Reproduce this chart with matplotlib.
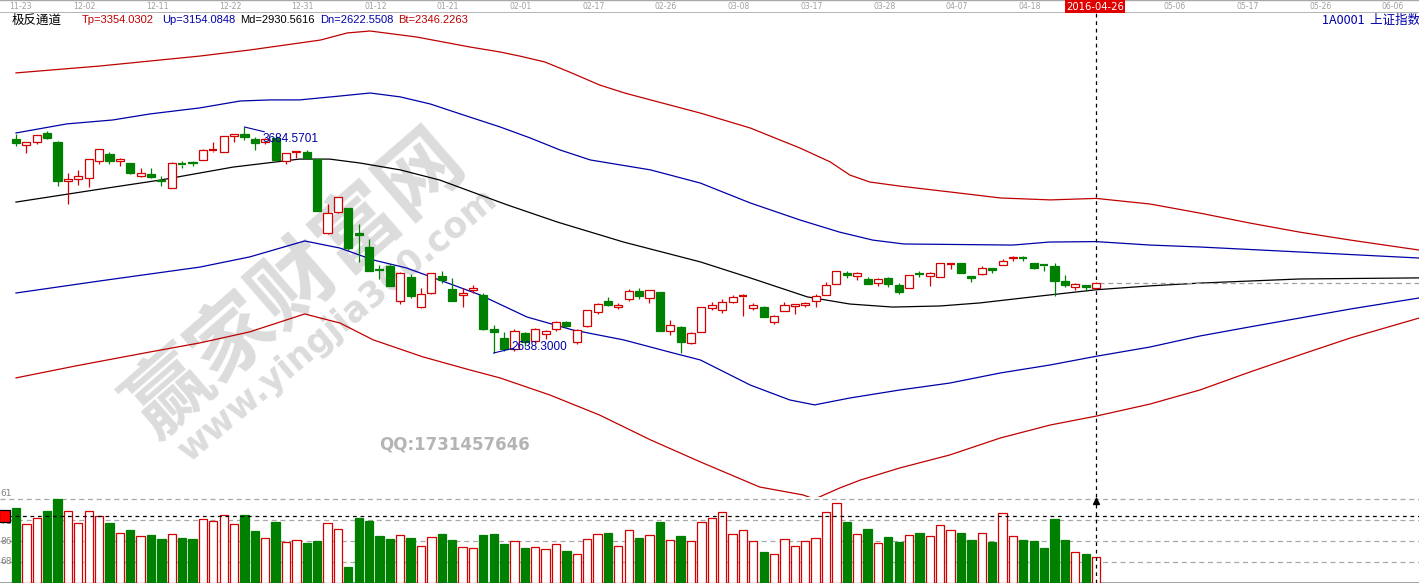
import matplotlib
matplotlib.use("Agg")
import matplotlib.pyplot as plt
from matplotlib.patches import Rectangle

# ---- daily OHLC, 2015-11-23 .. 2016-04-26 (index 0..104) ----
opens = [3630, 3603, 3614, 3659, 3616, 3433, 3443, 3450, 3525, 3558,
         3529, 3518, 3460, 3469, 3441, 3403, 3515, 3522, 3532, 3574,
         3571, 3641, 3650, 3631, 3614, 3635, 3528, 3567, 3570, 3536,
         3196, 3291, 3309, 3194, 3131, 3026, 3041, 2878, 2988, 2852,
         2917, 2997, 2934, 2905, 2928, 2907, 2751, 2707, 2659, 2730,
         2695, 2725, 2751, 2784, 2687, 2764, 2830, 2878, 2853, 2888,
         2925, 2891, 2919, 2742, 2760, 2686, 2737, 2846, 2839, 2873,
         2899, 2846, 2852, 2784, 2835, 2857, 2860, 2878, 2908, 2958,
         3009, 2996, 2982, 2962, 2984, 2955, 2937, 3008, 2996, 2992,
         3048, 3053, 2993, 3003, 3031, 3045, 3076, 3079, 3055, 3046,
         3043, 2972, 2943, 2953, 2938]
highs = [3654, 3616, 3648, 3668, 3621, 3470, 3484, 3538, 3585, 3568,
         3543, 3518, 3495, 3495, 3456, 3521, 3525, 3528, 3583, 3617,
         3644, 3652, 3684.5701, 3640, 3635, 3641, 3564, 3573, 3580, 3538,
         3328, 3362, 3309, 3235, 3165, 3044, 3051, 3011, 3003, 2939,
         3009, 3017, 2987, 2937, 2951, 2916, 2768, 2734, 2751, 2735,
         2753, 2745, 2785, 2786, 2748, 2838, 2868, 2897, 2871, 2933,
         2938, 2928, 2919, 2793, 2764, 2737, 2849, 2876, 2886, 2906,
         2910, 2871, 2857, 2813, 2875, 2866, 2875, 2911, 2969, 3018,
         3016, 3012, 2990, 2984, 2988, 2964, 3001, 3016, 3011, 3055,
         3057, 3054, 2995, 3039, 3033, 3075, 3088, 3086, 3055, 3052,
         3056, 2998, 2963, 2953, 2966]
lows = [3598, 3563, 3608, 3629, 3412, 3327, 3414, 3407, 3514, 3513,
        3505, 3465, 3454, 3448, 3412, 3400, 3497, 3505, 3532, 3568,
        3568, 3617, 3625, 3578, 3605, 3533, 3515, 3539, 3538, 3295,
        3189, 3288, 3115, 3059, 3016, 2979, 2949, 2867, 2891, 2845,
        2913, 2961, 2877, 2852, 2915, 2747, 2638.3, 2647, 2649, 2669,
        2687, 2703, 2741, 2757, 2682, 2760, 2821, 2858, 2841, 2878,
        2886, 2869, 2738, 2720, 2639, 2681, 2736, 2837, 2823, 2870,
        2810, 2836, 2803, 2772, 2831, 2817, 2852, 2853, 2906, 2957,
        2986, 2977, 2957, 2949, 2946, 2910, 2937, 2992, 2950, 2988,
        3029, 3009, 2968, 2999, 3008, 3045, 3063, 3064, 3028, 3019,
        2902, 2946, 2930, 2926, 2934]
closes = [3610, 3616, 3647, 3635, 3436, 3445, 3456, 3536, 3584, 3525,
          3536, 3470, 3472, 3455, 3434, 3520, 3510, 3516, 3580, 3578,
          3642, 3651, 3636, 3612, 3627, 3533, 3563, 3573, 3539, 3296,
          3287, 3361, 3125, 3186, 3016, 3022, 2949, 3008, 2900, 2913,
          3008, 2976, 2880, 2916, 2938, 2749, 2735, 2655, 2738, 2688,
          2749, 2739, 2781, 2763, 2746, 2836, 2867, 2862, 2860, 2927,
          2903, 2928, 2741, 2767, 2688, 2733, 2849, 2859, 2874, 2897,
          2901, 2862, 2804, 2810, 2859, 2864, 2870, 2904, 2955, 3018,
          2999, 3009, 2960, 2979, 2957, 2919, 3000, 3003, 3009, 3053,
          3050, 3009, 2984, 3034, 3023, 3066, 3082, 3078, 3033, 3042,
          2972, 2952, 2960, 2946, 2964]
volumes = [75, 59, 65, 72, 84, 72, 60, 72, 67, 60,
           50, 53, 47, 48, 44, 49, 45, 44, 64, 62,
           68, 59, 68, 52, 45, 61, 41, 43, 40, 42,
           60, 54, 16, 65, 62, 47, 44, 48, 45, 37,
           46, 49, 43, 36, 35, 48, 49, 39, 42, 35,
           36, 34, 39, 32, 29, 44, 49, 50, 37, 53,
           45, 48, 61, 43, 47, 42, 61, 65, 71, 49,
           53, 42, 31, 29, 44, 37, 42, 45, 71, 80,
           61, 49, 54, 40, 46, 41, 48, 50, 47, 58,
           53, 50, 43, 50, 41, 70, 47, 43, 42, 35,
           64, 43, 31, 29, 26]

# ---- channel lines (index, value) ----
tp_idx = [0, 8.1, 17.7, 22.5, 29.3, 31.9, 34.1, 38.6, 43.7, 46.6, 48.5, 50.9, 53.3, 56.2, 58.6, 61.1, 65.9,
          70.7, 75.5, 78.4, 80.3, 82.2, 85.1, 89.9, 94.8, 99.6, 104, 109.2, 114, 118.8, 123.6, 128.5, 135.1]
tp_val = [3935, 3967, 4013, 4041, 4087, 4120, 4129, 4101, 4055, 4032, 4013, 3986, 3939, 3879, 3842, 3810, 3749,
          3680, 3587, 3523, 3462, 3430, 3411, 3384, 3356, 3347, 3354, 3328, 3286, 3240, 3198, 3161, 3115]
up_idx = [0, 4.9, 9.3, 12.9, 17.7, 21.6, 24.5, 27.3, 31.2, 34.1, 37, 39.9, 43.1, 46.6, 49.5, 52.4, 55.3,
          58.2, 61.1, 65.9, 70.7, 75.5, 79.3, 82.5, 85.5, 96, 99.5, 104, 109.2, 114, 123.6, 135.1]
up_val = [3657, 3699, 3717, 3745, 3773, 3805, 3810, 3810, 3828, 3842, 3824, 3791, 3740, 3685, 3634, 3578, 3532,
          3509, 3486, 3425, 3333, 3254, 3198, 3161, 3143, 3138, 3152, 3154, 3138, 3129, 3106, 3078]
md_idx = [0, 8.1, 13.9, 20.9, 27.3, 30.2, 33.1, 37, 40.8, 47.3, 52.1, 58.5, 65.9, 70.7, 76.2, 80.3, 84.4,
          89, 92.8, 98.6, 104, 109.2, 114, 123.6, 135.1]
md_val = [3337, 3397, 3439, 3499, 3536, 3536, 3518, 3486, 3439, 3324, 3245, 3152, 3060, 2986, 2898, 2865, 2851,
          2856, 2870, 2902, 2931, 2949, 2962, 2981, 2986]
dn_idx = [0, 8.1, 17.7, 22.5, 27.8, 31.2, 34.4, 37.6, 40.8, 44.7, 49.2, 53.6, 58.5, 63.3, 65.9, 70.7, 74.5,
          76.9, 80.3, 85.1, 89.9, 94.8, 99.6, 104, 109.2, 114, 118.8, 123.6, 128.5, 135.1]
dn_val = [2916, 2972, 3036, 3083, 3157, 3124, 3069, 3032, 2976, 2907, 2805, 2745, 2699, 2638, 2606, 2490, 2421,
          2398, 2430, 2467, 2499, 2546, 2583, 2623, 2666, 2717, 2759, 2800, 2842, 2893]
bt_idx = [0, 5.7, 12.9, 17.7, 22.5, 27.8, 31.2, 34.4, 39.2, 43.7, 46.6, 51.4, 56.2, 61.1, 65.9, 71.6, 75.8,
          76.9, 79.3, 81.3, 85.1, 89.9, 94.8, 99.6, 104, 109.2, 114, 118.8, 123.6, 128.5, 135.1]
bt_val = [2523, 2578, 2643, 2685, 2736, 2819, 2777, 2699, 2620, 2560, 2523, 2444, 2351, 2236, 2134, 2018, 1981,
          1962, 2013, 2050, 2106, 2166, 2245, 2305, 2346, 2402, 2467, 2550, 2629, 2708, 2800]

tick_pos = [0, 7, 14, 21, 28, 35, 42, 49, 56, 63, 70, 77, 84, 91, 98, 112, 119, 126, 133]
tick_labels = ["11-23", "12-02", "12-11", "12-22", "12-31", "01-12", "01-21", "02-01",
               "02-17", "02-26", "03-08", "03-17", "03-28", "04-07", "04-18",
               "05-06", "05-17", "05-26", "06-06"]
cursor_idx = 104
cursor_label = "2016-04-26"

RED = "#d40000"
GREEN = "#008000"
BLUE = "#0000a8"
BAND_RED = "#c00000"

W, H = 1419, 584
fig = plt.figure(figsize=(W / 100, H / 100), dpi=100)
XL = (-16 / 10.385, (W - 16) / 10.385)


def fy(y):
    return 1 - y / H


ax_top = fig.add_axes([0, fy(13), 1, 13 / H])
ax = fig.add_axes([0, fy(497), 1, (497 - 13) / H])
axv = fig.add_axes([0, fy(583), 1, (583 - 497) / H])
for a in (ax_top, ax, axv):
    a.set_xlim(*XL)
    a.axis("off")
    a.patch.set_alpha(0)

# ---- date strip ----
ax_top.set_ylim(0, 1)
ax_top.axhline(0.02, color="#a8a8a8", lw=1.2)
ax_top.axhline(0.98, color="#a8a8a8", lw=1.0)
for p, lab in zip(tick_pos, tick_labels):
    xp = max(p - 0.4, 0.4)
    ax_top.text(xp, 0.5, lab, color="#a0a0a0", fontsize=5.6, ha="center", va="center")
ax_top.text(cursor_idx - 0.1, 0.5, cursor_label, color="white", fontsize=7.2, ha="center", va="center",
            bbox=dict(boxstyle="square,pad=0.12", fc="#e00000", ec="none"))

# ---- main panel ----
p_top = 3684.57 + (127 - 13) / 0.216
p_bot = 3684.57 - (497 - 127) / 0.216
ax.set_ylim(p_bot, p_top)

ax.plot(tp_idx, tp_val, color=BAND_RED, lw=0.9)
ax.plot(up_idx, up_val, color=BLUE, lw=0.9)
ax.plot(md_idx, md_val, color="black", lw=0.9)
ax.plot(dn_idx, dn_val, color=BLUE, lw=0.9)
ax.plot(bt_idx, bt_val, color=BAND_RED, lw=0.9)

bw = 0.78
for i, (o, h, l, c) in enumerate(zip(opens, highs, lows, closes)):
    up = c >= o
    col = RED if up else GREEN
    lo_b, hi_b = min(o, c), max(o, c)
    ax.vlines(i, hi_b, h, color=col, lw=0.9, zorder=3)
    ax.vlines(i, l, lo_b, color=col, lw=0.9, zorder=3)
    if hi_b - lo_b < 6:
        ax.hlines((o + c) / 2, i - bw / 2, i + bw / 2, color=col, lw=1.6, zorder=4)
    else:
        ax.add_patch(Rectangle((i - bw / 2, lo_b), bw, hi_b - lo_b,
                               fc="white" if up else GREEN, ec=col, lw=0.9, zorder=4))

# high / low markers
hi_i = highs.index(max(highs))
lo_i = lows.index(min(lows))
ax.plot([hi_i, hi_i + 1.9], [highs[hi_i], highs[hi_i] - 22], color=BLUE, lw=0.8, zorder=5)
ax.text(hi_i + 1.75, highs[hi_i] - 55, "%.4f" % highs[hi_i], color=BLUE, fontsize=8.5,
        family="Liberation Sans", va="center", ha="left", zorder=5)
ax.plot([lo_i, lo_i + 1.9], [lows[lo_i], lows[lo_i] + 22], color=BLUE, lw=0.8, zorder=5)
ax.text(lo_i + 1.75, lows[lo_i] + 28, "%.4f" % lows[lo_i], color=BLUE, fontsize=8.5,
        family="Liberation Sans", va="center", ha="left", zorder=5)

# cursor
ax.axvline(cursor_idx, color="black", lw=0.9, ls=(0, (3, 3)))
ax.hlines(closes[cursor_idx], cursor_idx + 0.3, XL[1], color="#a0a0a0", lw=0.9, ls=(0, (4, 3)))

# watermark
ax.text(27, 2950, "赢家财富网", family="Noto Sans CJK SC", fontweight="bold", fontsize=60,
        color="#d0d0d0", alpha=0.75, rotation=41, ha="center", va="center", zorder=1)
ax.text(31, 2770, "www.yingjia360.com", family="DejaVu Sans", fontweight="bold", fontsize=25,
        color="#d0d0d0", alpha=0.75, rotation=40, ha="center", va="center", zorder=1)
ax.text(35, 2215, "QQ:1731457646", family="DejaVu Sans", fontweight="bold", fontsize=12,
        color="#b4b4b4", ha="left", va="center", zorder=1)

# header
hy = fy(20)
fig.text(12 / W, hy, "极反通道", family="Noto Sans CJK SC", fontsize=9, color="black", va="center")
hdr = [("Tp=3354.0302", BAND_RED, 82), ("Up=3154.0848", BLUE, 162), ("Md=2930.5616", "black", 240),
       ("Dn=2622.5508", BLUE, 320), ("Bt=2346.2263", BAND_RED, 398)]
for s, c, x in hdr:
    fig.text(x / W, hy, s, family="Liberation Sans", fontsize=8, color=c, va="center")
fig.text(1322 / W, hy, "1A0001  上证指数", family=["Noto Sans CJK SC", "DejaVu Sans"], fontsize=9,
         color=BLUE, va="center")

# ---- volume panel ----
axv.set_ylim(0, 86)
for g in (21, 42, 63, 84):
    axv.axhline(g, color="#a8a8a8", lw=0.9, ls=(0, (4, 3)), zorder=1)
axv.axhline(0.5, color="#909090", lw=1.2)
for i, v in enumerate(volumes):
    up = closes[i] >= opens[i]
    axv.add_patch(Rectangle((i - 0.4, 0), 0.8, v, fc="white" if up else GREEN,
                            ec=RED if up else GREEN, lw=0.9, zorder=3))
axv.axhline(67, color="black", lw=0.9, ls=(0, (3, 3)), zorder=4)
axv.axvline(cursor_idx, color="black", lw=0.9, ls=(0, (3, 3)), zorder=5)
axv.plot([cursor_idx], [82], marker="^", color="black", ms=4, zorder=6)

for lab, yy in (("61", 493), ("71", 521), ("86", 542), ("68", 562)):
    fig.text(0.5 / W, fy(yy), lab, color="#808080", fontsize=6.5, va="center", ha="left")
fig.patches.append(Rectangle((-1 / W, fy(522)), 11 / W, 12 / H, transform=fig.transFigure,
                             fc="#ff0000", ec="black", lw=0.9, zorder=10))

fig.savefig("out.png", dpi=100)
